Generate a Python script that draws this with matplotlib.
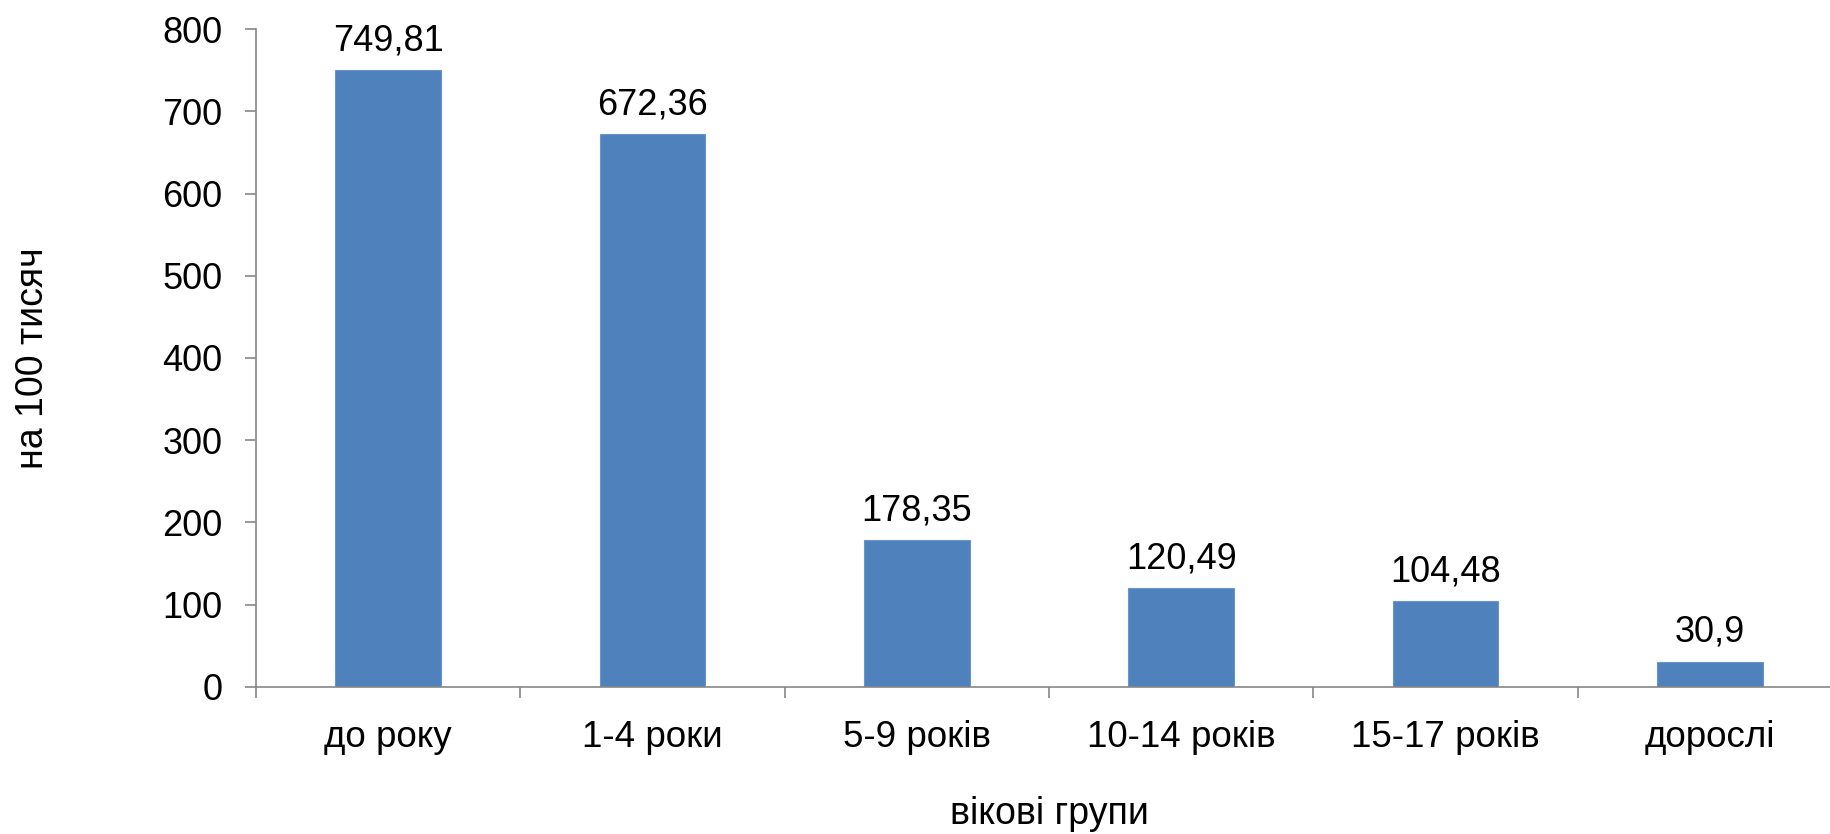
import matplotlib.pyplot as plt

plt.rcParams['font.family'] = ['Liberation Sans', 'DejaVu Sans']

categories = ['до року', '1-4 роки', '5-9 років', '10-14 років', '15-17 років', 'дорослі']
values = [749.81, 672.36, 178.35, 120.49, 104.48, 30.9]
value_labels = ['749,81', '672,36', '178,35', '120,49', '104,48', '30,9']
y_ticks = [0, 100, 200, 300, 400, 500, 600, 700, 800]

fig = plt.figure(figsize=(18.31, 8.34), dpi=100)
# axes runs slightly past the right edge, like the original
ax = fig.add_axes([0.1398, 0.1763, 0.8662, 0.7889])

x = range(len(categories))
bars = ax.bar(x, values, width=0.4, color='#4F81BD', edgecolor='#6a95cb', linewidth=0.8)

for b, lab in zip(bars, value_labels):
    ax.annotate(lab, (b.get_x() + b.get_width() / 2, b.get_height()),
                xytext=(0, 8.5), textcoords='offset points',
                ha='center', va='bottom', fontsize=26)

ax.set_xlim(-0.5, len(categories) - 0.5)
ax.set_ylim(0, 800)
ax.set_yticks(y_ticks)
ax.set_xticks(x)
ax.set_xticklabels(categories)
# ticks between categories
ax.set_xticks([i - 0.5 for i in range(len(categories) + 1)], minor=True)
ax.tick_params(axis='x', which='major', length=0, pad=24, labelsize=26.5)
ax.tick_params(axis='x', which='minor', length=8, width=1.2, color='#888888')
ax.tick_params(axis='y', length=8, width=1.2, color='#888888', pad=16, labelsize=26)

for s in ['top', 'right']:
    ax.spines[s].set_visible(False)
for s in ['left', 'bottom']:
    ax.spines[s].set_color('#888888')
    ax.spines[s].set_linewidth(1.2)

ax.set_ylabel('на 100 тисяч', fontsize=27, labelpad=80)
ax.set_xlabel('вікові групи', fontsize=27, labelpad=29)

plt.savefig('out.png', dpi=100)
